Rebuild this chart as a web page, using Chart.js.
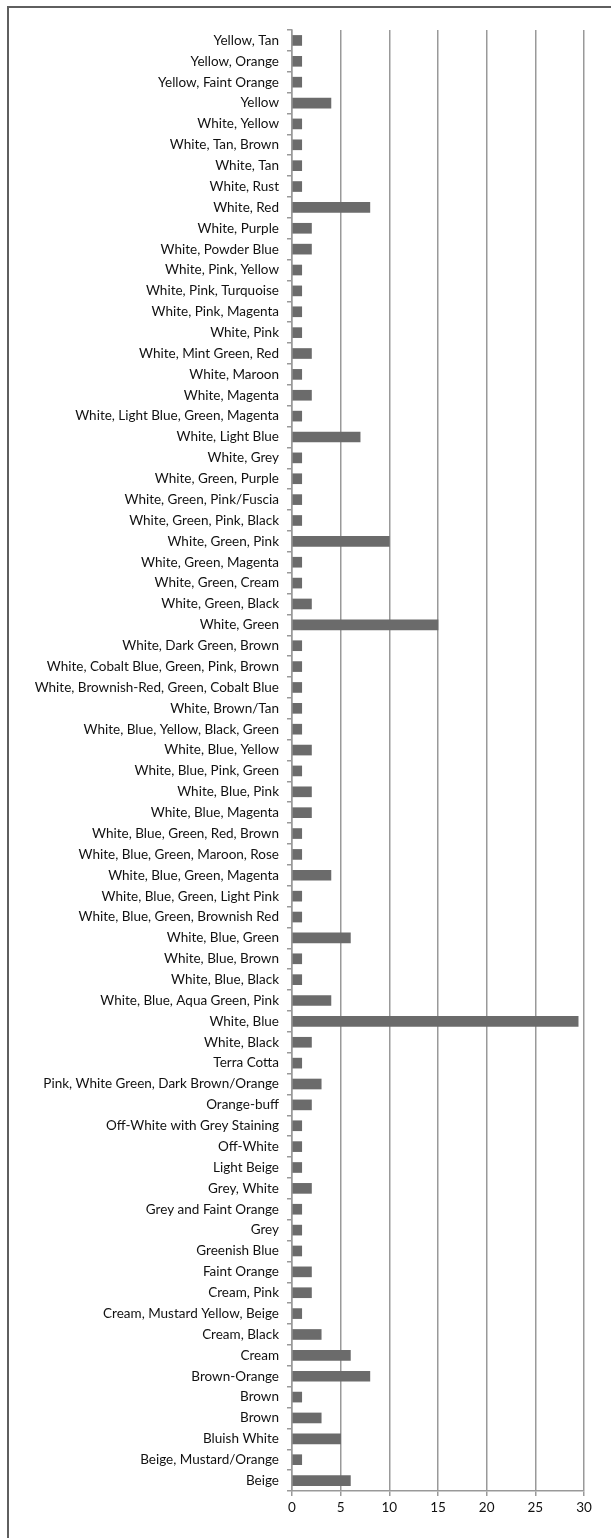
<!DOCTYPE html>
<html>
<head>
<meta charset="utf-8">
<script src="https://cdn.jsdelivr.net/npm/chart.js@4.4.1/dist/chart.umd.min.js"></script>
<style>
  html, body { margin: 0; padding: 0; background: #fff; overflow: hidden; }
  #frame {
    position: absolute; left: 7px; top: 6px;
    width: 700px; height: 1600px;
    border: 2px solid #5f5f5f;
  }
  #wrap { position: absolute; left: 0; top: 0; width: 611px; height: 1538px; }
</style>
</head>
<body>
<div id="frame"></div>
<div id="wrap"><canvas id="myChart"></canvas></div>
<script>
const colours = [
    'Yellow, Tan', 'Yellow, Orange', 'Yellow, Faint Orange', 'Yellow',
    'White, Yellow', 'White, Tan, Brown', 'White, Tan', 'White, Rust',
    'White, Red', 'White, Purple', 'White, Powder Blue', 'White, Pink, Yellow',
    'White, Pink, Turquoise', 'White, Pink, Magenta', 'White, Pink',
    'White, Mint Green, Red', 'White, Maroon', 'White, Magenta',
    'White, Light Blue, Green, Magenta', 'White, Light Blue', 'White, Grey',
    'White, Green, Purple', 'White, Green, Pink/Fuscia', 'White, Green, Pink, Black',
    'White, Green, Pink', 'White, Green, Magenta', 'White, Green, Cream',
    'White, Green, Black', 'White, Green', 'White, Dark Green, Brown',
    'White, Cobalt Blue, Green, Pink, Brown', 'White, Brownish-Red, Green, Cobalt Blue',
    'White, Brown/Tan', 'White, Blue, Yellow, Black, Green', 'White, Blue, Yellow',
    'White, Blue, Pink, Green', 'White, Blue, Pink', 'White, Blue, Magenta',
    'White, Blue, Green, Red, Brown', 'White, Blue, Green, Maroon, Rose',
    'White, Blue, Green, Magenta', 'White, Blue, Green, Light Pink',
    'White, Blue, Green, Brownish Red', 'White, Blue, Green', 'White, Blue, Brown',
    'White, Blue, Black', 'White, Blue, Aqua Green, Pink', 'White, Blue',
    'White, Black', 'Terra Cotta', 'Pink, White Green, Dark Brown/Orange',
    'Orange-buff', 'Off-White with Grey Staining', 'Off-White', 'Light Beige',
    'Grey, White', 'Grey and Faint Orange', 'Grey', 'Greenish Blue', 'Faint Orange',
    'Cream, Pink', 'Cream, Mustard Yellow, Beige', 'Cream, Black', 'Cream',
    'Brown-Orange', 'Brown', 'Brown', 'Bluish White', 'Beige, Mustard/Orange', 'Beige'
];

const counts = [
    1, 1, 1, 4,
    1, 1, 1, 1,
    8, 2, 2, 1,
    1, 1, 1,
    2, 1, 2,
    1, 7, 1,
    1, 1, 1,
    10, 1, 1,
    2, 15, 1,
    1, 1,
    1, 1, 2,
    1, 2, 2,
    1, 1,
    4, 1,
    1, 6, 1,
    1, 4, 29.4,
    2, 1, 3,
    2, 1, 1, 1,
    2, 1, 1, 1, 2,
    2, 1, 3, 6,
    8, 1, 3, 5, 1, 6
];

const xTicks = [0, 5, 10, 15, 20, 25, 30];

const ctx = document.getElementById('myChart');

new Chart(ctx, {
    type: 'bar',
    data: {
        labels: colours,
        datasets: [{
            data: counts,
            backgroundColor: '#6b6b6b',
            borderWidth: 0,
            barThickness: 10
        }]
    },
    options: {
        animation: false,
        responsive: true,
        maintainAspectRatio: false,
        indexAxis: 'y',
        layout: {
            padding: { left: 0, top: 30, right: 27, bottom: 0 }
        },
        plugins: {
            legend: { display: false },
            tooltip: { enabled: false }
        },
        scales: {
            x: {
                min: xTicks[0],
                max: xTicks[xTicks.length - 1],
                afterBuildTicks: scale => {
                    scale.ticks = xTicks.map(v => ({ value: v }));
                },
                afterFit: scale => { scale.height = 47; },
                grid: {
                    color: '#999',
                    lineWidth: 1.5,
                    tickLength: 5,
                    tickColor: '#999'
                },
                border: { display: true, color: '#999', width: 1.5 },
                ticks: {
                    color: '#111',
                    padding: 4,
                    font: { family: 'Lato', size: 13.5 }
                }
            },
            y: {
                afterFit: scale => { scale.width = 292; },
                grid: {
                    offset: true,
                    drawOnChartArea: false,
                    tickLength: 5,
                    tickColor: '#999',
                    lineWidth: 1.5
                },
                border: { display: true, color: '#999', width: 1.5 },
                ticks: {
                    autoSkip: false,
                    color: '#111',
                    padding: 8,
                    font: { family: 'Lato', size: 13.5 }
                }
            }
        }
    }
});
</script>
</body>
</html>
